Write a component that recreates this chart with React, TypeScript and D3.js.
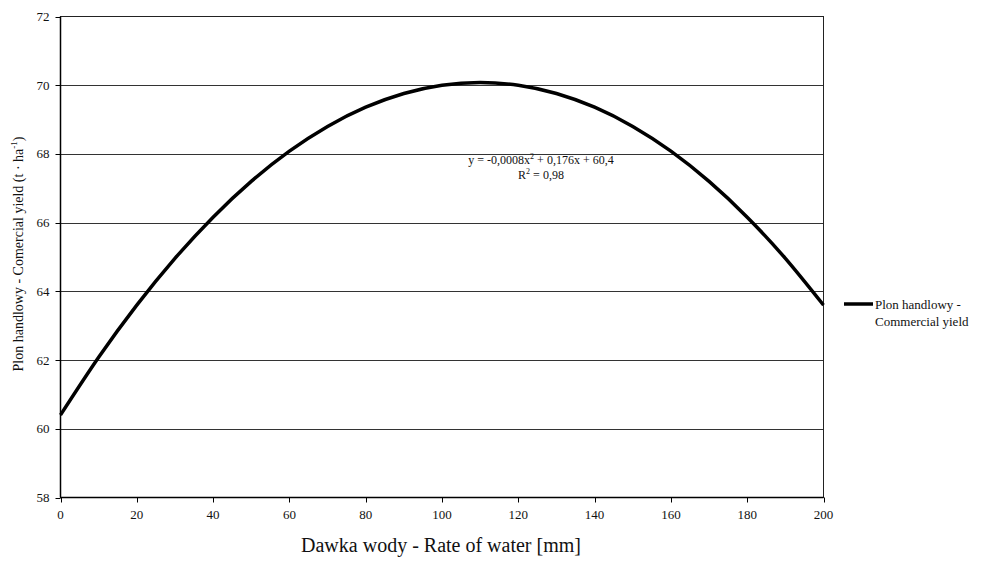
import React from "react";
import * as d3 from "d3";

const waterRates = [0, 10, 20, 30, 40, 50, 60, 70, 80, 90, 100, 110, 120, 130, 140, 150, 160, 170, 180, 190, 200];
const commercialYield = [60.4, 62.08, 63.6, 64.96, 66.16, 67.2, 68.08, 68.8, 69.36, 69.76, 70.0, 70.08, 70.0, 69.76, 69.36, 68.8, 68.08, 67.2, 66.16, 64.96, 63.6];
const xTicks = [0, 20, 40, 60, 80, 100, 120, 140, 160, 180, 200];
const yTicks = [58, 60, 62, 64, 66, 68, 70, 72];

const W = 1008;
const H = 562;
const L = 60.5, R = 823.5, T = 16.5, B = 497.5;
const FONT = '"Liberation Serif", "Times New Roman", Times, "DejaVu Serif", serif';

export default function App() {
  const x = d3.scaleLinear().domain([0, 200]).range([L, R]);
  const y = d3.scaleLinear().domain([58, 72]).range([B, T]);
  const pts = waterRates.map((w, i) => [w, commercialYield[i]] as [number, number]);
  const line = d3.line<[number, number]>().x(d => x(d[0])).y(d => y(d[1])).curve(d3.curveNatural);
  const ts = { fontFamily: FONT };

  return (
    <svg width={W} height={H} style={{ position: "absolute", left: 0, top: 0, background: "#fff", fontFamily: FONT }}>
      {yTicks.map(t => (
        <g key={t}>
          {t !== 58 && t !== 72 && <line x1={L} x2={R} y1={Math.round(y(t)) + 0.5} y2={Math.round(y(t)) + 0.5} stroke="#333" strokeWidth={1} />}
          <line x1={L - 5} x2={L} y1={Math.round(y(t)) + 0.5} y2={Math.round(y(t)) + 0.5} stroke="#000" strokeWidth={1} />
          <text style={ts} x={L - 11} y={y(t)} dy="0.35em" textAnchor="end" fontSize={13} fill="#111">{t}</text>
        </g>
      ))}
      {xTicks.map(t => (
        <g key={t}>
          <line x1={Math.round(x(t)) + 0.5} x2={Math.round(x(t)) + 0.5} y1={B} y2={B + 5} stroke="#000" strokeWidth={1} />
          <text style={ts} x={x(t)} y={B + 21} textAnchor="middle" fontSize={13} fill="#111">{t}</text>
        </g>
      ))}
      <rect x={L} y={T} width={R - L} height={B - T} fill="none" stroke="#222" strokeWidth={1} />
      <line x1={L} x2={L} y1={T} y2={B} stroke="#000" strokeWidth={1.5} />
      <line x1={L} x2={R} y1={B} y2={B} stroke="#000" strokeWidth={1.5} />
      <path d={line(pts) || ""} fill="none" stroke="#000" strokeWidth={3.5} />
      <text style={ts} x={541} y={164} textAnchor="middle" fontSize={12} fill="#111">
        y = -0,0008x<tspan dy={-5} fontSize={8}>2</tspan><tspan dy={5}> + 0,176x + 60,4</tspan>
      </text>
      <text style={ts} x={541} y={179} textAnchor="middle" fontSize={12} fill="#111">
        R<tspan dy={-5} fontSize={8}>2</tspan><tspan dy={5}> = 0,98</tspan>
      </text>
      <text style={ts} x={441} y={552} textAnchor="middle" fontSize={20} fill="#111">Dawka wody - Rate of water [mm]</text>
      <text style={ts} transform={`translate(23,${254}) rotate(-90)`} textAnchor="middle" fontSize={14} fill="#111">
        Plon handlowy - Comercial yield (t · ha<tspan dy={-6} fontSize={9}>-1</tspan><tspan dy={6}>)</tspan>
      </text>
      <line x1={844} x2={873} y1={304} y2={304} stroke="#000" strokeWidth={3.5} />
      <text style={ts} x={875} y={309} fontSize={13} fill="#111">Plon handlowy -</text>
      <text style={ts} x={875} y={326} fontSize={13} fill="#111">Commercial yield</text>
    </svg>
  );
}
